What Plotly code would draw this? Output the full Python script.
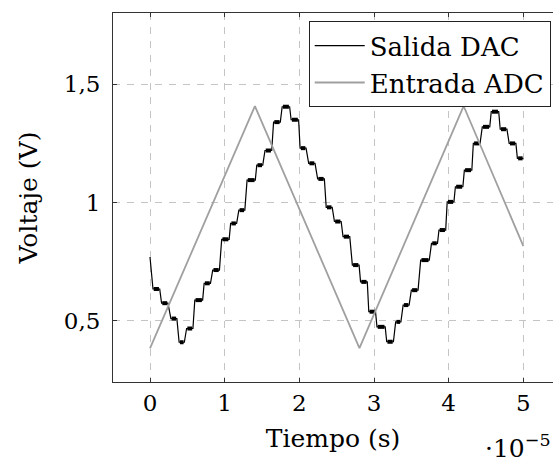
import plotly.graph_objects as go

# Time in units of 1e-5 s
adc_t = [0.0, 1.405, 2.805, 4.2, 5.0]
adc_v = [0.384, 1.408, 0.385, 1.408, 0.816]

dac_t0 = 0.0
dac_v0 = 0.77
dac_on = [0.04, 0.155, 0.28, 0.39, 0.49, 0.60, 0.725, 0.84, 0.96, 1.08, 1.19, 1.30, 1.43,
          1.54, 1.655, 1.77, 1.89, 2.01, 2.125, 2.245, 2.36, 2.47, 2.585, 2.71, 2.82, 2.93,
          3.04, 3.17, 3.29, 3.39, 3.50, 3.625, 3.77, 3.87, 3.98, 4.09, 4.21, 4.33, 4.45,
          4.57, 4.69, 4.81, 4.92]
dac_off = [0.13, 0.24, 0.36, 0.46, 0.575, 0.705, 0.81, 0.93, 1.06, 1.16, 1.27, 1.41, 1.51,
           1.63, 1.745, 1.87, 1.99, 2.09, 2.21, 2.335, 2.44, 2.56, 2.675, 2.80, 2.91, 3.02,
           3.15, 3.26, 3.36, 3.47, 3.59, 3.74, 3.85, 3.96, 4.07, 4.19, 4.31, 4.42, 4.55,
           4.67, 4.78, 4.90, 5.00]
dac_level = [0.635, 0.575, 0.51, 0.41, 0.468, 0.588, 0.659, 0.715, 0.845, 0.912, 0.968, 1.095,
             1.158, 1.22, 1.34, 1.405, 1.35, 1.23, 1.166, 1.10, 0.98, 0.92, 0.856, 0.736,
             0.665, 0.539, 0.475, 0.412, 0.496, 0.567, 0.63, 0.757, 0.828, 0.884, 1.003,
             1.067, 1.137, 1.25, 1.32, 1.384, 1.31, 1.25, 1.187]

x_ticks = [0, 1, 2, 3, 4, 5]
y_ticks = [0.5, 1.0, 1.5]
y_tick_text = ["0,5", "1", "1,5"]

# build DAC path
dx, dy = [dac_t0], [dac_v0]
for a, b, v in zip(dac_on, dac_off, dac_level):
    dx += [a, b]
    dy += [v, v]
# plateau "fuzz" segments
fx, fy = [], []
for a, b, v in zip(dac_on, dac_off, dac_level):
    fx += [a + 0.01, b - 0.01, None]
    fy += [v, v, None]

FONT = "DejaVu Serif"
fig = go.Figure()
fig.add_trace(go.Scatter(x=fx, y=fy, mode="lines", line=dict(color="black", width=4),
                         showlegend=False, hoverinfo="skip"))
fig.add_trace(go.Scatter(x=dx, y=dy, mode="lines", name="Salida DAC",
                         line=dict(color="black", width=1.2)))
fig.add_trace(go.Scatter(x=adc_t, y=adc_v, mode="lines", name="Entrada ADC",
                         line=dict(color="#a0a0a0", width=1.8)))

fig.update_layout(
    width=553, height=462,
    margin=dict(l=113, r=0, t=13, b=80),
    paper_bgcolor="white", plot_bgcolor="white",
    font=dict(family=FONT, size=24, color="black"),
    legend=dict(x=0.9948, y=0.9775, xanchor="right", yanchor="top",
                bordercolor="#222", borderwidth=1, bgcolor="white",
                font=dict(family=FONT, size=26), tracegroupgap=0, itemwidth=50),
    annotations=[dict(text="·10<sup>−5</sup>", x=1.0, y=(382 - 446) / 369,
                      xref="paper", yref="paper",
                      showarrow=False, font=dict(family=FONT, size=25), xanchor="right",
                      yanchor="middle")],
)

fig.update_xaxes(range=[-0.4955, 5.397], tickvals=x_ticks, ticktext=[str(v) for v in x_ticks],
                 showline=True, linecolor="#333", linewidth=1, mirror="ticks",
                 ticks="inside", ticklen=4, tickcolor="#333",
                 showgrid=True, gridcolor="#c4c4c4", griddash="7px,7px", gridwidth=1,
                 zeroline=False, tickfont=dict(family=FONT, size=23),
                 title=dict(text="Tiempo (s)", font=dict(family=FONT, size=25), standoff=14))
fig.update_yaxes(range=[0.242, 1.801], tickvals=y_ticks, ticktext=y_tick_text,
                 showline=True, linecolor="#333", linewidth=1, mirror=False,
                 ticks="inside", ticklen=4, tickcolor="#333", ticklabelstandoff=7,
                 showgrid=True, gridcolor="#c4c4c4", griddash="7px,7px", gridwidth=1,
                 zeroline=False, tickfont=dict(family=FONT, size=23),
                 title=dict(text="Voltaje (V)", font=dict(family=FONT, size=25), standoff=19))

fig.write_html("out.html")
